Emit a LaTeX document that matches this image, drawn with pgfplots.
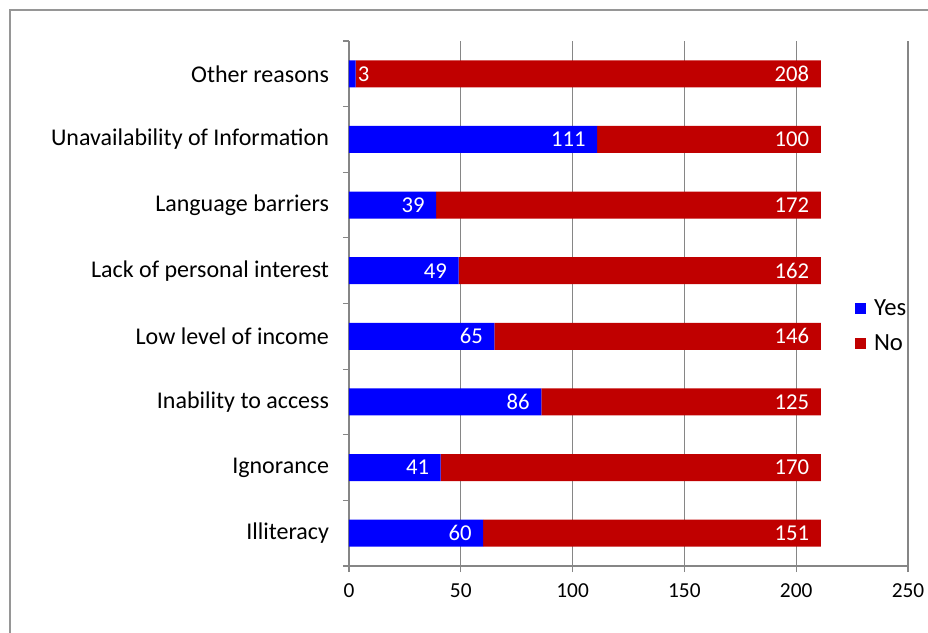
\documentclass[border=0pt]{standalone}
\usepackage{fontspec}
\setmainfont{Carlito}
\usepackage{pgfplots}
\usepackage{pgfplotstable}
\pgfplotsset{compat=1.18}
\definecolor{yesblue}{RGB}{0,0,255}
\definecolor{nored}{RGB}{192,0,0}
\definecolor{gridgray}{RGB}{134,134,134}
\definecolor{framegray}{RGB}{150,150,150}

\pgfplotstableread{
y v sh
0 60 -8.5
1 41 -8.5
2 86 -8.5
3 65 -8.5
4 49 -8.5
5 39 -8.5
6 111 -8.5
7 3 10.5
}\yestable
\pgfplotstableread{
y v sh
0 151 -8.5
1 170 -8.5
2 125 -8.5
3 146 -8.5
4 162 -8.5
5 172 -8.5
6 100 -8.5
7 208 -8.5
}\notable

\begin{document}
\begin{tikzpicture}
\useasboundingbox (-261.75pt,-49.5pt) rectangle (434.25pt,424.5pt);
\clip (-261.75pt,-49.5pt) rectangle (434.25pt,424.5pt);
\draw[framegray, line width=1pt] (-254.25pt,-80pt) rectangle (520pt,417pt);
\begin{axis}[
  at={(0pt,0pt)}, anchor=south west,
  scale only axis, width=419.25pt, height=393.75pt,
  xbar stacked, bar width=20.25pt,
  xmin=0, xmax=250, ymin=-0.5, ymax=7.5,
  xtick={0,50,...,250},
  ytick={0,...,7},
  yticklabels={Illiteracy, Ignorance, Inability to access, Low level of income, Lack of personal interest, Language barriers, Unavailability of Information, Other reasons},
  minor ytick={-0.5,0.5,...,7.5},
  axis x line*=bottom, axis y line*=left,
  axis line style={gridgray, line width=0.9pt, -},
  xmajorgrids, grid style={gridgray, line width=0.9pt},
  tick align=outside, major tick length=4.5pt, minor tick length=4.5pt,
  every major y tick/.append style={draw=none},
  every minor y tick/.append style={gridgray, line width=0.9pt},
  every major x tick/.append style={gridgray, line width=0.9pt},
  /pgf/number format/assume math mode=true,
  xticklabel style={font=\fontsize{16}{19}\selectfont, yshift=-5pt},
  yticklabel style={font=\fontsize{18}{21}\selectfont, xshift=-7pt},
  point meta=explicit,
  nodes near coords,
  visualization depends on={0.8385*\thisrow{v}+\thisrow{sh} \as \mysh},
  every node near coord/.append style={font=\fontsize{17}{20}\selectfont, text=white, anchor=east, inner sep=0pt, xshift=\mysh pt},
  legend style={draw=none, fill=none, at={(0.897,0.457)}, anchor=west, font=\fontsize{18.5}{21}\selectfont, row sep=9pt},
  legend cell align=left,
  legend image code/.code={\fill[#1, draw=none] (0pt,-4.2pt) rectangle (8.4pt,4.2pt); \path (12.5pt,0pt);},
]
\addplot[fill=yesblue, draw=none] table[x=v, y=y, meta=v] {\yestable};
\addplot[fill=nored, draw=none] table[x=v, y=y, meta=v] {\notable};
\legend{Yes, No}
\end{axis}
\end{tikzpicture}
\end{document}
